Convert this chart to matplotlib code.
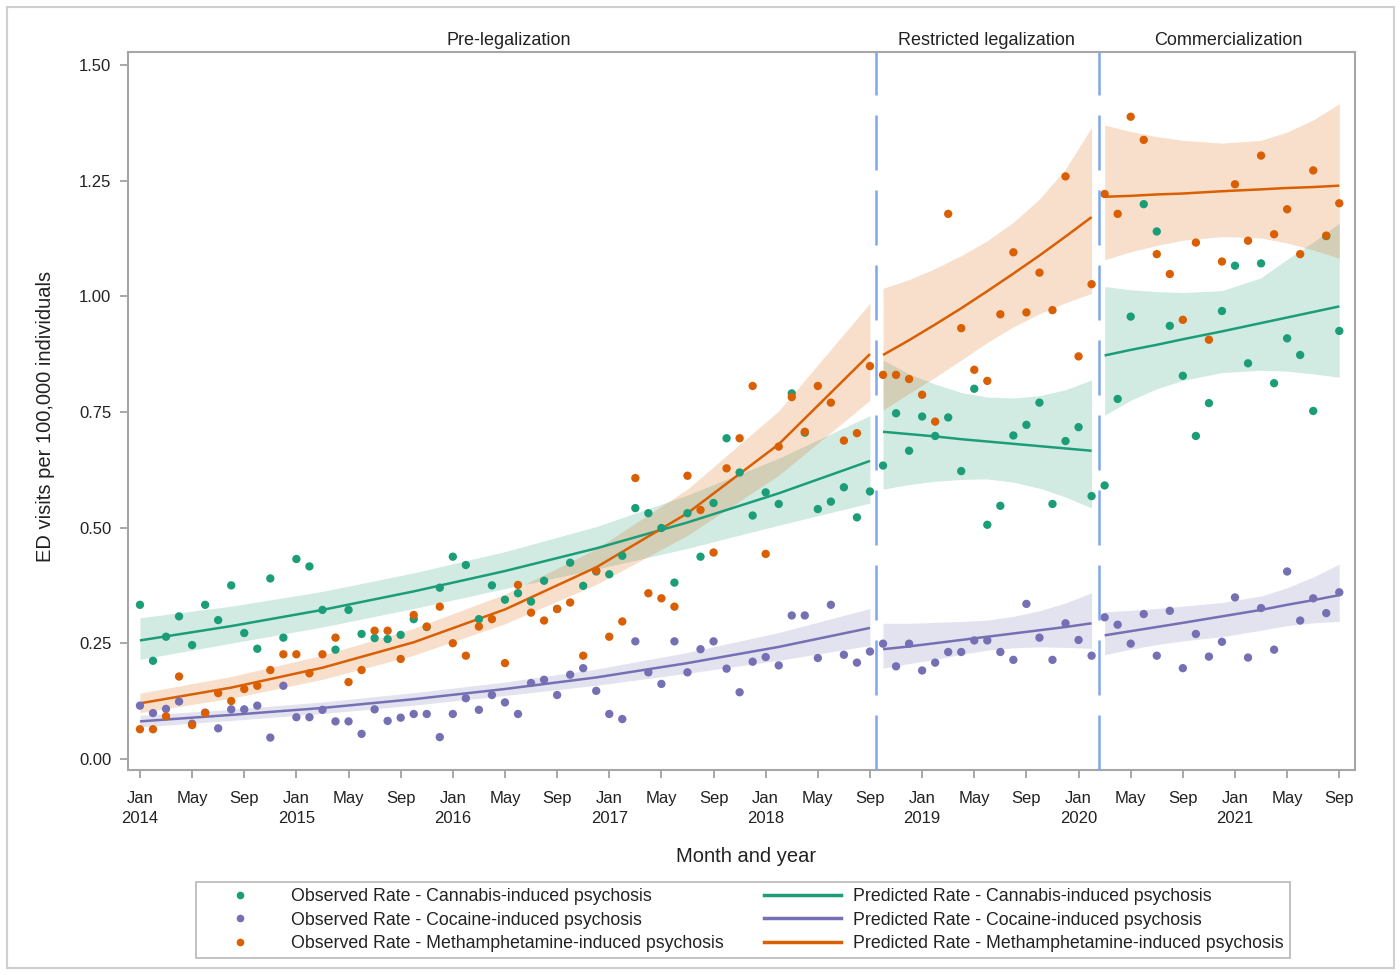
import numpy as np
import matplotlib
matplotlib.use("Agg")
import matplotlib.pyplot as plt
from matplotlib.lines import Line2D
from matplotlib.patches import Rectangle

plt.rcParams['font.family'] = ['Liberation Sans Narrow', 'Liberation Sans', 'DejaVu Sans']

# ---------------- data ----------------
# month index: 0 = Jan 2014 ... 92 = Sep 2021
months = np.arange(93)

tick_months = list(range(0, 93, 4))
tick_labels = ["Jan\n2014", "May", "Sep", "Jan\n2015", "May", "Sep", "Jan\n2016", "May", "Sep",
               "Jan\n2017", "May", "Sep", "Jan\n2018", "May", "Sep", "Jan\n2019", "May", "Sep",
               "Jan\n2020", "May", "Sep", "Jan\n2021", "May", "Sep"]

cannabis_obs = [0.333, 0.212, 0.264, 0.308, 0.246, 0.333, 0.300, 0.375, 0.272, 0.238,
                0.390, 0.262, 0.432, 0.416, 0.322, 0.236, 0.322, 0.270, 0.261, 0.259,
                0.268, 0.302, 0.285, 0.370, 0.437, 0.419, 0.302, 0.375, 0.344, 0.358,
                0.340, 0.385, 0.324, 0.424, 0.374, 0.405, 0.399, 0.439, 0.542, 0.531,
                0.499, 0.381, 0.531, 0.437, 0.553, 0.693, 0.619, 0.526, 0.576, 0.551,
                0.790, 0.705, 0.540, 0.556, 0.587, 0.522, 0.578, 0.634, 0.747, 0.666,
                0.740, 0.698, 0.738, 0.622, 0.800, 0.506, 0.547, 0.699, 0.722, 0.770,
                0.551, 0.687, 0.717, 0.568, 0.591, 0.778, 0.956, 1.199, 1.140, 0.936,
                0.828, 0.698, 0.769, 0.968, 1.066, 0.855, 1.071, 0.812, 0.909, 0.873,
                0.752, 1.130, 0.925]

cocaine_obs = [0.115, 0.099, 0.108, 0.124, 0.076, 0.100, 0.066, 0.107, 0.107, 0.115,
               0.046, 0.158, 0.090, 0.090, 0.106, 0.081, 0.081, 0.054, 0.107, 0.082,
               0.089, 0.097, 0.097, 0.047, 0.097, 0.131, 0.106, 0.138, 0.122, 0.097,
               0.164, 0.171, 0.138, 0.182, 0.196, 0.147, 0.097, 0.086, 0.254, 0.187,
               0.162, 0.254, 0.187, 0.237, 0.254, 0.195, 0.144, 0.210, 0.220, 0.202,
               0.310, 0.310, 0.218, 0.333, 0.225, 0.208, 0.232, 0.249, 0.200, 0.249,
               0.191, 0.208, 0.231, 0.231, 0.256, 0.256, 0.231, 0.214, 0.335, 0.262,
               0.214, 0.293, 0.257, 0.223, 0.306, 0.290, 0.249, 0.313, 0.223, 0.320,
               0.196, 0.270, 0.221, 0.253, 0.349, 0.219, 0.326, 0.236, 0.405, 0.299,
               0.347, 0.315, 0.360]

meth_obs = [0.064, 0.064, 0.092, 0.178, 0.073, 0.099, 0.142, 0.125, 0.151, 0.158,
            0.192, 0.226, 0.226, 0.185, 0.226, 0.262, 0.166, 0.192, 0.277, 0.277,
            0.216, 0.311, 0.286, 0.329, 0.250, 0.223, 0.286, 0.302, 0.207, 0.376,
            0.316, 0.299, 0.324, 0.338, 0.223, 0.407, 0.264, 0.297, 0.607, 0.358,
            0.347, 0.329, 0.612, 0.538, 0.446, 0.628, 0.693, 0.806, 0.443, 0.675,
            0.782, 0.707, 0.806, 0.770, 0.688, 0.704, 0.849, 0.830, 0.830, 0.821,
            0.787, 0.729, 1.178, 0.931, 0.841, 0.817, 0.961, 1.095, 0.965, 1.051,
            0.970, 1.259, 0.870, 1.026, 1.221, 1.178, 1.388, 1.338, 1.091, 1.048,
            0.949, 1.116, 0.906, 1.075, 1.242, 1.120, 1.304, 1.134, 1.188, 1.091,
            1.272, 1.131, 1.201]

# predicted rates with 95% bands, read at knot months for each period
pre_knots = [0, 7, 14, 21, 28, 35, 42, 49, 56]
restr_knots = [57, 59, 61, 63, 65, 67, 69, 71, 73]
comm_knots = [74, 76, 78, 80, 83, 86, 88, 90, 92]

cannabis_pred_pre = [0.256, 0.287, 0.322, 0.362, 0.406, 0.455, 0.511, 0.574, 0.644]
cannabis_lo_pre = [0.215, 0.250, 0.285, 0.325, 0.368, 0.410, 0.455, 0.505, 0.553]
cannabis_hi_pre = [0.305, 0.330, 0.362, 0.402, 0.448, 0.502, 0.570, 0.650, 0.742]
cocaine_pred_pre = [0.081, 0.095, 0.110, 0.129, 0.151, 0.176, 0.207, 0.242, 0.283]
cocaine_lo_pre = [0.069, 0.083, 0.098, 0.116, 0.137, 0.159, 0.185, 0.213, 0.245]
cocaine_hi_pre = [0.094, 0.107, 0.123, 0.143, 0.166, 0.194, 0.230, 0.273, 0.325]
meth_pred_pre = [0.120, 0.154, 0.197, 0.252, 0.323, 0.414, 0.531, 0.680, 0.875]
meth_lo_pre = [0.100, 0.131, 0.172, 0.224, 0.292, 0.377, 0.483, 0.613, 0.775]
meth_hi_pre = [0.142, 0.178, 0.224, 0.282, 0.356, 0.454, 0.583, 0.752, 0.985]

cannabis_pred_restr = [0.707, 0.702, 0.697, 0.691, 0.686, 0.681, 0.676, 0.671, 0.666]
cannabis_lo_restr = [0.583, 0.593, 0.600, 0.604, 0.605, 0.598, 0.585, 0.566, 0.542]
cannabis_hi_restr = [0.862, 0.832, 0.810, 0.792, 0.782, 0.780, 0.785, 0.798, 0.819]
cocaine_pred_restr = [0.237, 0.243, 0.250, 0.257, 0.264, 0.271, 0.278, 0.285, 0.293]
cocaine_lo_restr = [0.196, 0.206, 0.215, 0.226, 0.235, 0.240, 0.242, 0.241, 0.239]
cocaine_hi_restr = [0.293, 0.293, 0.295, 0.297, 0.300, 0.308, 0.320, 0.337, 0.359]
meth_pred_restr = [0.873, 0.905, 0.939, 0.974, 1.011, 1.049, 1.088, 1.129, 1.171]
meth_lo_restr = [0.754, 0.790, 0.825, 0.862, 0.900, 0.934, 0.962, 0.986, 1.006]
meth_hi_restr = [1.017, 1.036, 1.060, 1.088, 1.120, 1.160, 1.210, 1.275, 1.365]

cannabis_pred_comm = [0.872, 0.884, 0.895, 0.907, 0.924, 0.942, 0.954, 0.966, 0.978]
cannabis_lo_comm = [0.743, 0.775, 0.800, 0.818, 0.835, 0.840, 0.838, 0.832, 0.825]
cannabis_hi_comm = [1.021, 1.014, 1.010, 1.008, 1.012, 1.040, 1.080, 1.117, 1.158]
cocaine_pred_comm = [0.267, 0.276, 0.285, 0.294, 0.308, 0.322, 0.333, 0.343, 0.354]
cocaine_lo_comm = [0.225, 0.237, 0.247, 0.255, 0.264, 0.278, 0.288, 0.294, 0.297]
cocaine_hi_comm = [0.318, 0.321, 0.325, 0.330, 0.338, 0.352, 0.370, 0.393, 0.421]
meth_pred_comm = [1.215, 1.217, 1.220, 1.222, 1.227, 1.231, 1.234, 1.236, 1.239]
meth_lo_comm = [1.079, 1.096, 1.110, 1.121, 1.129, 1.126, 1.115, 1.100, 1.082]
meth_hi_comm = [1.370, 1.356, 1.345, 1.337, 1.331, 1.337, 1.355, 1.381, 1.416]

policy_changes = [56.5, 73.6]
period_names = ["Pre-legalization", "Restricted legalization", "Commercialization"]
period_label_x = [28.3, 64.9, 83.5]

series_names = ["Cannabis-induced psychosis", "Cocaine-induced psychosis",
                "Methamphetamine-induced psychosis"]
colors = ["#1b9e77", "#7570b3", "#d95f02"]

# ---------------- figure ----------------
fig = plt.figure(figsize=(14, 9.75), dpi=100)
ax = fig.add_axes([0.0914, 0.2103, 0.8764, 0.7364])

segments = [
    (pre_knots, [(cannabis_pred_pre, cannabis_lo_pre, cannabis_hi_pre),
                 (cocaine_pred_pre, cocaine_lo_pre, cocaine_hi_pre),
                 (meth_pred_pre, meth_lo_pre, meth_hi_pre)]),
    (restr_knots, [(cannabis_pred_restr, cannabis_lo_restr, cannabis_hi_restr),
                   (cocaine_pred_restr, cocaine_lo_restr, cocaine_hi_restr),
                   (meth_pred_restr, meth_lo_restr, meth_hi_restr)]),
    (comm_knots, [(cannabis_pred_comm, cannabis_lo_comm, cannabis_hi_comm),
                  (cocaine_pred_comm, cocaine_lo_comm, cocaine_hi_comm),
                  (meth_pred_comm, meth_lo_comm, meth_hi_comm)]),
]

for knots, trio in segments:
    for (pred, lo, hi), c in zip(trio, colors):
        ax.fill_between(knots, lo, hi, color=c, alpha=0.2, lw=0, zorder=1)
for knots, trio in segments:
    for (pred, lo, hi), c in zip(trio, colors):
        ax.plot(knots, pred, color=c, lw=1.8, zorder=2, solid_capstyle='butt')

for obs, c in zip([cannabis_obs, cocaine_obs, meth_obs], colors):
    ax.scatter(months, obs, s=36, color=c, edgecolors='none', zorder=3)

for xv in policy_changes:
    ax.axvline(xv, color="#7ea7ef", lw=1.8, dashes=(22, 8), zorder=4)

ax.set_xlim(-0.92, 93.2)
ax.set_ylim(-0.024, 1.528)
ax.set_xticks(tick_months)
ax.set_xticklabels(tick_labels, fontsize=12, color="#222222", linespacing=1.45)
yt = [0, 0.25, 0.5, 0.75, 1.0, 1.25, 1.5]
ax.set_yticks(yt)
ax.set_yticklabels([f"{v:.2f}" for v in yt], fontsize=12, color="#222222")
ax.tick_params(axis='both', direction='out', length=6, width=1.2, color="#999999")
ax.tick_params(axis='x', pad=9)
ax.tick_params(axis='y', pad=6)
for sp in ax.spines.values():
    sp.set_color("#a6a6a6")
    sp.set_linewidth(1.5)

for name, xv in zip(period_names, period_label_x):
    ax.text(xv, 1.0165, name, transform=ax.get_xaxis_transform(), ha='center',
            va='center', fontsize=13, color="#222222")

fig.text(0.0325, 0.573, "ED visits per 100,000 individuals", rotation=90,
         ha='center', va='center', fontsize=14.5, color="#222222")
fig.text(0.533, 0.122, "Month and year", ha='center', va='center', fontsize=14.5,
         color="#222222")

handles = []
labels = []
for name, c in zip(series_names, colors):
    handles.append(Line2D([], [], marker='o', ls='none', color=c, markersize=4.5))
    labels.append("Observed Rate - " + name)
for name, c in zip(series_names, colors):
    handles.append(Line2D([], [], color=c, lw=2.5))
    labels.append("Predicted Rate - " + name)

leg = fig.legend(handles, labels, loc='center', bbox_to_anchor=(0.5307, 0.0564), ncol=2,
                 frameon=True, fancybox=False, edgecolor="#a6a6a6", handlelength=4.3,
                 handletextpad=0.7, columnspacing=2.3, labelspacing=0.35, borderpad=0.35,
                 borderaxespad=0, fontsize=12.8)
leg.get_frame().set_linewidth(1.2)
for t in leg.get_texts():
    t.set_color("#222222")

fig.patches.append(Rectangle((0.005, 0.007), 0.991, 0.986, transform=fig.transFigure,
                             fill=False, edgecolor="#cfcfcf", lw=1.5))

fig.savefig("out.png", dpi=100)
